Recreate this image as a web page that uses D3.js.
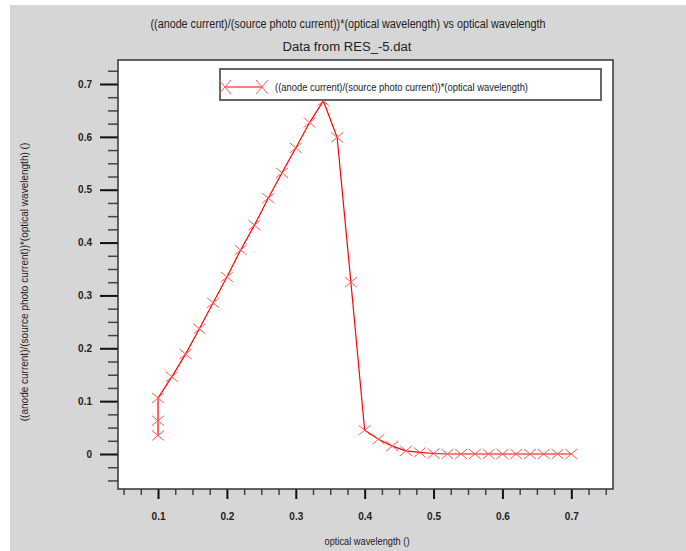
<!DOCTYPE html>
<html>
<head>
<meta charset="utf-8">
<script src="https://cdn.jsdelivr.net/npm/d3@7"></script>
<style>
  body { margin: 0; background: #fff; }
  text { font-family: "Liberation Sans", Arial, sans-serif; fill: #222; }
</style>
</head>
<body>
<svg id="chart" width="686" height="551"></svg>
<script>
// data
var wavelength = [0.1, 0.1, 0.1, 0.12, 0.14, 0.16, 0.18, 0.2, 0.22, 0.24, 0.26, 0.28, 0.3,
  0.32, 0.34, 0.36, 0.38, 0.4, 0.42, 0.44, 0.46, 0.48, 0.5, 0.52, 0.54, 0.56, 0.58,
  0.6, 0.62, 0.64, 0.66, 0.68, 0.7];
var response = [0.035, 0.063, 0.106, 0.146, 0.189, 0.237, 0.286, 0.335, 0.386, 0.433, 0.484,
  0.532, 0.579, 0.627, 0.668, 0.599, 0.325, 0.045, 0.028, 0.015, 0.006, 0.003, 0.001,
  0, 0, 0, 0, 0, 0, 0, 0, 0, 0];
var xMajor = [0.1, 0.2, 0.3, 0.4, 0.5, 0.6, 0.7];
var yMajor = [0, 0.1, 0.2, 0.3, 0.4, 0.5, 0.6, 0.7];

var titleText = "((anode current)/(source photo current))*(optical wavelength) vs optical wavelength";
var subTitle = "Data from RES_-5.dat";
var seriesName = "((anode current)/(source photo current))*(optical wavelength)";
var xLabel = "optical wavelength ()";
var yLabel = "((anode current)/(source photo current))*(optical wavelength) ()";

var svg = d3.select("#chart");
var box = {left: 118, top: 60, right: 613, bottom: 489};

// grey page background (white strip top/left like the original)
svg.append("rect").attr("x", 10).attr("y", 5).attr("width", 676).attr("height", 546).attr("fill", "#d6d6d6");

var x = d3.scaleLinear().domain([0.0419, 0.7605]).range([box.left, box.right]);
var y = d3.scaleLinear().domain([-0.0662, 0.7454]).range([box.bottom, box.top]);

svg.append("rect")
  .attr("x", box.left).attr("y", box.top)
  .attr("width", box.right - box.left).attr("height", box.bottom - box.top)
  .attr("fill", "#fff");

var fmt = function (d) { return d === 0 ? "0" : d3.format(".1f")(d); };
var xMinor = d3.range(2, 31).map(function (i) { return i * 0.025; }).filter(function (v) {
  return Math.abs(v * 10 - Math.round(v * 10)) > 1e-6;
});
var yMinor = d3.range(-2, 30).map(function (i) { return i * 0.025; }).filter(function (v) {
  return Math.abs(v * 10 - Math.round(v * 10)) > 1e-6;
});

// x axis
var xAxis = d3.axisBottom(x).tickValues(xMajor).tickSize(10).tickSizeOuter(0).tickPadding(14).tickFormat(fmt);
var gx = svg.append("g").attr("transform", "translate(0," + box.bottom + ")").call(xAxis);
gx.select(".domain").remove();
gx.selectAll(".tick line").attr("stroke", "#111").attr("stroke-width", 2);
gx.selectAll("text").style("font-size", "10px").style("font-weight", "bold").attr("fill", "#333");
svg.append("g").attr("transform", "translate(0," + box.bottom + ")")
  .call(d3.axisBottom(x).tickValues(xMinor).tickSize(6).tickSizeOuter(0).tickFormat(""))
  .call(function (g) { g.select(".domain").remove(); })
  .selectAll("line").attr("stroke", "#444").attr("stroke-width", 1.5);

// y axis
var yAxis = d3.axisLeft(y).tickValues(yMajor).tickSize(18).tickSizeOuter(0).tickPadding(8).tickFormat(fmt);
var gy = svg.append("g").attr("transform", "translate(" + box.left + ",0)").call(yAxis);
gy.select(".domain").remove();
gy.selectAll(".tick line").attr("stroke", "#111").attr("stroke-width", 2);
gy.selectAll("text").style("font-size", "10px").style("font-weight", "bold").attr("fill", "#333");
svg.append("g").attr("transform", "translate(" + box.left + ",0)")
  .call(d3.axisLeft(y).tickValues(yMinor).tickSize(10).tickSizeOuter(0).tickFormat(""))
  .call(function (g) { g.select(".domain").remove(); })
  .selectAll("line").attr("stroke", "#444").attr("stroke-width", 1.5);

// frame
svg.append("rect")
  .attr("x", box.left).attr("y", box.top)
  .attr("width", box.right - box.left).attr("height", box.bottom - box.top)
  .attr("fill", "none").attr("stroke", "#333").attr("stroke-width", 1.5);

// series
var pts = wavelength.map(function (w, i) { return [w, response[i]]; });
var line = d3.line().x(function (d) { return x(d[0]); }).y(function (d) { return y(d[1]); });
svg.append("path").datum(pts)
  .attr("d", line).attr("fill", "none").attr("stroke", "#ff0000").attr("stroke-width", 1.2);

function cross(g, cx, cy, w, h) {
  g.append("path")
    .attr("d", "M" + (cx - w) + "," + (cy - h) + "L" + (cx + w) + "," + (cy + h) +
      "M" + (cx - w) + "," + (cy + h) + "L" + (cx + w) + "," + (cy - h))
    .attr("stroke", "#ff5a5a").attr("stroke-width", 1).attr("fill", "none");
}
var marks = svg.append("g");
pts.forEach(function (d) { cross(marks, x(d[0]), y(d[1]), 6, 5); });

// legend
var lg = svg.append("g");
lg.append("rect").attr("x", 220).attr("y", 69).attr("width", 381).attr("height", 31)
  .attr("fill", "#fff").attr("stroke", "#666").attr("stroke-width", 2);
lg.append("line").attr("x1", 225).attr("x2", 262).attr("y1", 87).attr("y2", 87)
  .attr("stroke", "#ff0000").attr("stroke-width", 1.2);
cross(lg, 225, 87, 6, 7);
cross(lg, 262, 87, 6, 7);
lg.append("text").attr("x", 275).attr("y", 91).style("font-size", "10px")
  .attr("textLength", 253).attr("lengthAdjust", "spacingAndGlyphs").text(seriesName);

// titles
svg.append("text").attr("x", 348).attr("y", 28).attr("text-anchor", "middle")
  .style("font-size", "12px").attr("textLength", 395).attr("lengthAdjust", "spacingAndGlyphs").text(titleText);
svg.append("text").attr("x", 347).attr("y", 51).attr("text-anchor", "middle")
  .style("font-size", "12px").attr("textLength", 129).attr("lengthAdjust", "spacingAndGlyphs").text(subTitle);
svg.append("text").attr("x", 367).attr("y", 545).attr("text-anchor", "middle")
  .style("font-size", "10px").attr("textLength", 85).attr("lengthAdjust", "spacingAndGlyphs").text(xLabel);
svg.append("text").attr("transform", "translate(28,282) rotate(-90)").attr("text-anchor", "middle")
  .style("font-size", "10px").text(yLabel);
</script>
</body>
</html>
